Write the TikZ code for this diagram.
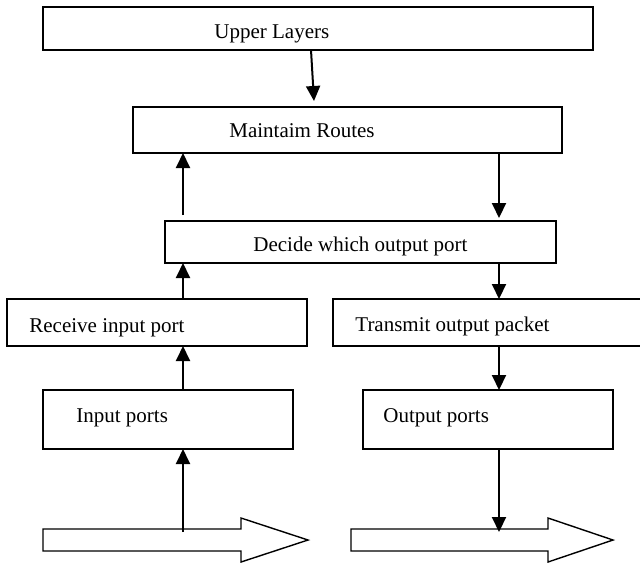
\documentclass[tikz,border=0pt]{standalone}
\usepackage{fontspec}
\setmainfont{Liberation Serif}
\usetikzlibrary{arrows.meta,calc}

\tikzset{
  box/.style={draw,line width=0.9pt,inner sep=0pt,outer sep=0pt},
  txt/.style={anchor=base west,inner sep=0pt,font=\fontsize{10.5}{12}\selectfont},
  flow/.style={line width=1pt,-{Triangle[width=7pt,length=7.5pt]}},
  bigarrow/.style={draw,line width=0.7pt,fill=white}
}

\begin{document}
\begin{tikzpicture}[x=0.5pt,y=-0.5pt]
  \path[use as bounding box,clip] (0,0) rectangle (640,563);
  % boxes
  \node[box,minimum width=275pt,minimum height=21.5pt] (ul) at (318,28.5) {};
  \node[box,minimum width=214.5pt,minimum height=23pt] (mr) at (347.5,130) {};
  \node[box,minimum width=195.5pt,minimum height=21pt] (dec) at (360.5,242) {};
  \node[box,minimum width=150pt,minimum height=23.5pt] (rcv) at (157,322.5) {};
  \node[box,minimum width=163.5pt,minimum height=23.5pt] (tx) at (496.5,322.5) {};
  \node[box,minimum width=125pt,minimum height=29.5pt] (inp) at (168,419.5) {};
  \node[box,minimum width=125pt,minimum height=29.5pt] (outp) at (488,419.5) {};
  % labels
  \node[txt] (ul-t) at (214,38) {Upper Layers};
  \node[txt] (mr-t) at (229,137) {Maintaim Routes};
  \node[txt] (dec-t) at (253,251) {Decide which output port};
  \node[txt] (rcv-t) at (29,332) {Receive input port};
  \node[txt] (tx-t) at (355,331) {Transmit output packet};
  \node[txt] (inp-t) at (76,422) {Input ports};
  \node[txt] (outp-t) at (383,422) {Output ports};
  % packet flow arrows
  \draw[bigarrow] (43,529) -- (241,529) -- (241,518) -- (308,540) -- (241,562) -- (241,551) -- (43,551) -- cycle;
  \draw[bigarrow] (351,529) -- (548,529) -- (548,518) -- (613,540) -- (548,562) -- (548,551) -- (351,551) -- cycle;
  \coordinate (lx) at (183,0);
  \coordinate (rx) at (499,0);
  \coordinate (in-tap) at (183,532);
  \coordinate (out-tap) at (499,532);
  \coordinate (mr-in) at (314,101);
  % connectors
  \draw[flow] ($(ul.south)+(-7,0)$) -- (mr-in);
  \draw[flow,shorten <=3pt] (dec.north -| lx) -- (mr.south -| lx);
  \draw[flow,shorten >=1.5pt] (mr.south -| rx) -- (dec.north -| rx);
  \draw[flow] (rcv.north -| lx) -- (dec.south -| lx);
  \draw[flow] (dec.south -| rx) -- (tx.north -| rx);
  \draw[flow] (inp.north -| lx) -- (rcv.south -| lx);
  \draw[flow] (tx.south -| rx) -- (outp.north -| rx);
  \draw[flow] (in-tap) -- (inp.south -| lx);
  \draw[flow] (outp.south -| rx) -- (out-tap);
\end{tikzpicture}
\end{document}
